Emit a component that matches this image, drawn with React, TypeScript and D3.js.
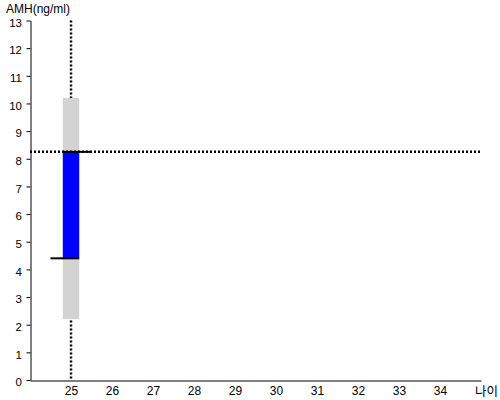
import React, { useEffect, useRef } from 'react'
import * as d3 from 'd3'

const ages = [25]
const normalLow = [2.2]
const normalHigh = [10.2]
const amhLow = [4.4]
const amhHigh = [8.25]
const xTicks = [25, 26, 27, 28, 29, 30, 31, 32, 33, 34]
const yTicks = [0, 1, 2, 3, 4, 5, 6, 7, 8, 9, 10, 11, 12, 13]

const W = 500
const H = 400

const App = () => {
  const ref = useRef<SVGSVGElement>(null)

  useEffect(() => {
    const svg = d3.select(ref.current)
    svg.selectAll('*').remove()

    const x = d3.scaleLinear().domain([24, 35]).range([30, 481])
    const y = d3.scaleLinear().domain([0, 13]).range([380, 20.5])
    const font = 'Liberation Sans, Arial, sans-serif'

    // dotted vertical at the age
    svg.selectAll('line.vdot').data(ages).enter().append('line')
      .attr('x1', d => x(d)).attr('x2', d => x(d))
      .attr('y1', y(13)).attr('y2', y(0))
      .attr('stroke', '#000').attr('stroke-width', 2.5)
      .attr('stroke-dasharray', '2,2')

    // normal range (grey)
    svg.selectAll('rect.range').data(ages).enter().append('rect')
      .attr('x', d => x(d - 0.2)).attr('width', d => x(d + 0.2) - x(d - 0.2))
      .attr('y', (d, i) => y(normalHigh[i]))
      .attr('height', (d, i) => y(normalLow[i]) - y(normalHigh[i]))
      .attr('fill', '#d3d3d3')

    // measured range (blue)
    svg.selectAll('rect.amh').data(ages).enter().append('rect')
      .attr('x', d => x(d - 0.2)).attr('width', d => x(d + 0.2) - x(d - 0.2))
      .attr('y', (d, i) => y(amhHigh[i]))
      .attr('height', (d, i) => y(amhLow[i]) - y(amhHigh[i]))
      .attr('fill', '#0000ff')

    // dotted horizontal at the upper value
    svg.selectAll('line.hdot').data(amhHigh).enter().append('line')
      .attr('x1', x(24)).attr('x2', x(35))
      .attr('y1', d => y(d)).attr('y2', d => y(d))
      .attr('stroke', '#000').attr('stroke-width', 2.5)
      .attr('stroke-dasharray', '2,2')

    // black caps
    svg.selectAll('line.hi').data(ages).enter().append('line')
      .attr('x1', d => x(d - 0.2)).attr('x2', d => x(d + 0.5))
      .attr('y1', (d, i) => y(amhHigh[i])).attr('y2', (d, i) => y(amhHigh[i]))
      .attr('stroke', '#000').attr('stroke-width', 2)
    svg.selectAll('line.lo').data(ages).enter().append('line')
      .attr('x1', d => x(d - 0.5)).attr('x2', d => x(d + 0.2))
      .attr('y1', (d, i) => y(amhLow[i])).attr('y2', (d, i) => y(amhLow[i]))
      .attr('stroke', '#000').attr('stroke-width', 2)

    // axes
    const yAxis = svg.append('g').attr('transform', 'translate(30.5,0)')
      .call(d3.axisLeft(y).tickValues(yTicks).tickSize(4).tickPadding(4.5).tickSizeOuter(0))
    yAxis.select('.domain').attr('stroke', '#000')
    yAxis.selectAll('text').attr('font-family', font).attr('font-size', 11.5).attr('fill', '#000')
      .attr('dy', '0.5em')

    const xAxis = svg.append('g').attr('transform', 'translate(0,380.5)')
      .call(d3.axisBottom(x).tickValues(xTicks).tickSize(0).tickPadding(6).tickSizeOuter(0).tickFormat(d3.format('d')))
    xAxis.select('.domain').attr('stroke', '#000')
    xAxis.selectAll('text').attr('font-family', font).attr('font-size', 12).attr('fill', '#000')

    svg.append('text').attr('x', 6).attr('y', 13)
      .attr('font-family', font).attr('font-size', 12).attr('fill', '#000')
      .text('AMH(ng/ml)')
    svg.append('text').attr('x', 475).attr('y', 396)
      .attr('font-family', 'Noto Sans CJK KR, sans-serif').attr('font-size', 12.5).attr('fill', '#000')
      .text('나이')
  }, [])

  return (
    <svg ref={ref} width={W} height={H}
      style={{ position: 'absolute', left: 0, top: 0, background: '#fff' }} />
  )
}

export default App
